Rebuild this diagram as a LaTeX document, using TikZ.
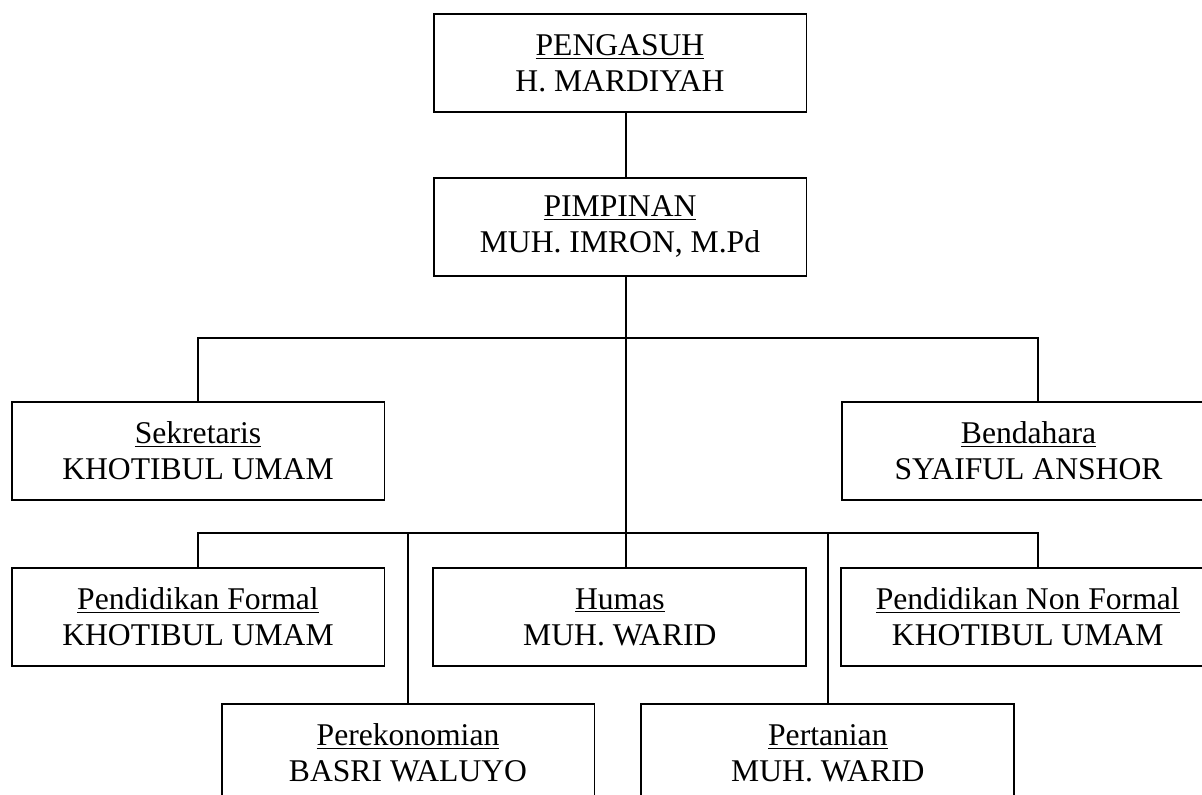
\documentclass[tikz,border=0pt]{standalone}
\usepackage{fontspec}
\setmainfont{Liberation Serif}
\usetikzlibrary{positioning}

\begin{document}
\begin{tikzpicture}[x=0.02cm, y=0.02cm, node distance=1.28cm and 0.94cm,
  orgbox/.style={rectangle, draw=black, line width=1.1pt, fill=white,
    minimum width=7.46cm, minimum height=1.96cm, align=center, inner sep=2pt,
    font=\fontsize{18}{20.5}\selectfont},
  orgline/.style={draw=black, line width=1.1pt}]

  \useasboundingbox (0,0) rectangle (1202,-794);
  \clip (0,0) rectangle (1202,-794);

  % Top
  \node[orgbox] (pengasuh) at (620,-63) {\underline{PENGASUH}\\H. MARDIYAH};
  \node[orgbox, below=of pengasuh] (pimpinan) {\underline{PIMPINAN}\\MUH. IMRON, M.Pd};

  % Row 1
  \node[orgbox] (sekretaris) at (198,-451)    {\underline{Sekretaris}\\KHOTIBUL UMAM};
  \node[orgbox] (bendahara)  at (1028.5,-451) {\underline{Bendahara}\\SYAIFUL ANSHOR};

  % Row 2
  \node[orgbox, below=1.32cm of sekretaris] (pformal)   {\underline{Pendidikan Formal}\\KHOTIBUL UMAM};
  \node[orgbox, right=of pformal]           (humas)     {\underline{Humas}\\MUH. WARID};
  \node[orgbox, right=0.66cm of humas]      (nonformal) {\underline{Pendidikan Non Formal}\\KHOTIBUL UMAM};

  % Row 3
  \node[orgbox] (perekonomian) at (408,-753)           {\underline{Perekonomian}\\BASRI WALUYO};
  \node[orgbox, right=0.9cm of perekonomian] (pertanian) {\underline{Pertanian}\\MUH. WARID};

  % Bus lines
  \coordinate (busM) at (626,-338);
  \coordinate (busL) at (198,-338);
  \coordinate (busR) at (1038,-338);
  \coordinate (subL) at (198,-533);
  \coordinate (subR) at (1038,-533);

  \draw[orgline] (pengasuh.south -| busM) -- (pimpinan.north -| busM);
  \draw[orgline] (pimpinan.south -| busM) -- (humas.north -| busM);
  \draw[orgline] (sekretaris.north) -- (busL) -- (busR) -- (busR |- bendahara.north);
  \draw[orgline] (pformal.north) -- (subL) -- (subR) -- (subR |- nonformal.north);
  \draw[orgline] (perekonomian.north) -- (perekonomian.north |- subL);
  \draw[orgline] (pertanian.north) -- (pertanian.north |- subL);
\end{tikzpicture}
\end{document}
